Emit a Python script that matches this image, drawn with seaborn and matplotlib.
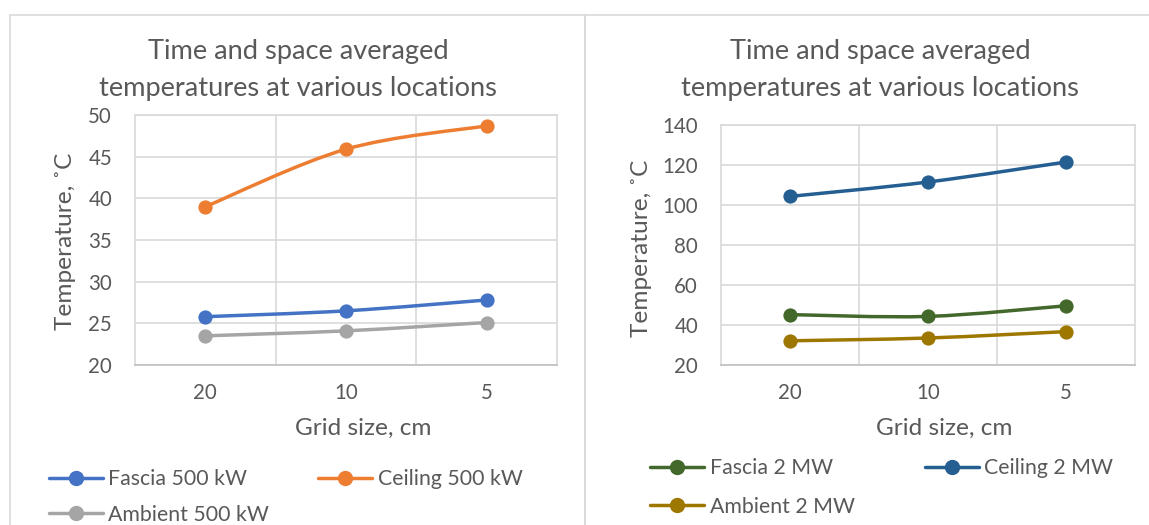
import numpy as np
import pandas as pd
import seaborn as sns
import matplotlib
matplotlib.use("Agg")
import matplotlib.pyplot as plt
from matplotlib.path import Path
from matplotlib.patches import PathPatch, Rectangle
from matplotlib.lines import Line2D

# ---------------- data ----------------
grid_sizes = ["20", "10", "5"]

fascia_500 = [25.8, 26.5, 27.8]
ceiling_500 = [39.0, 45.9, 48.7]
ambient_500 = [23.5, 24.1, 25.1]

fascia_2mw = [45.2, 44.3, 49.6]
ceiling_2mw = [104.3, 111.5, 121.5]
ambient_2mw = [32.1, 33.5, 36.7]

labels_left = ["Fascia 500 kW", "Ceiling 500 kW", "Ambient 500 kW"]
labels_right = ["Fascia 2 MW", "Ceiling 2 MW", "Ambient 2 MW"]

title_text = "Time and space averaged\ntemperatures at various locations"
xlabel_text = "Grid size, cm"
ylabel_text = "Temperature, \u02daC"

left_ticks = [20, 25, 30, 35, 40, 45, 50]
right_ticks = [20, 40, 60, 80, 100, 120, 140]

# ---------------- style ----------------
sns.set_theme(style="white")
plt.rcParams["font.family"] = ["Lato", "DejaVu Sans"]
TXT = "#595959"
GRID = "#d9d9d9"

colors_left = ["#4472C4", "#ED7D31", "#A5A5A5"]
colors_right = ["#43682B", "#255E91", "#9E7700"]

W, H = 1149, 525
fig = plt.figure(figsize=(W / 100, H / 100), dpi=100)
fig.patch.set_facecolor("white")


def px_axes(x0, y0, x1, y1):
    return fig.add_axes([x0 / W, 1 - y1 / H, (x1 - x0) / W, (y1 - y0) / H])


def smooth_path(xs, ys):
    # Excel-like smoothed line: cubic Bezier segments (Catmull-Rom tangents)
    pts = np.column_stack([xs, ys]).astype(float)
    n = len(pts)
    verts = [pts[0]]
    codes = [Path.MOVETO]
    for i in range(n - 1):
        p0 = pts[i - 1] if i > 0 else pts[i]
        p1 = pts[i]
        p2 = pts[i + 1]
        p3 = pts[i + 2] if i + 2 < n else pts[i + 1]
        c1 = p1 + (p2 - p0) / 6.0
        c2 = p2 - (p3 - p1) / 6.0
        verts += [c1, c2, p2]
        codes += [Path.CURVE4] * 3
    return Path(verts, codes)


def draw_panel(ax, series, labels, colors, ticks, legend_anchor, colspacing, rowspacing):
    for vals, lab, c in zip(series, labels, colors):
        df = pd.DataFrame({"x": np.arange(len(grid_sizes)), "y": vals})
        path = smooth_path(df["x"], df["y"])
        ax.add_patch(PathPatch(path, fill=False, edgecolor=c, lw=2.5,
                               capstyle="round", joinstyle="round", zorder=3))
        sns.scatterplot(data=df, x="x", y="y", color=c, s=105, edgecolor=c,
                        linewidth=0, zorder=4, ax=ax, legend=False)
    ax.set_xlim(-0.5, len(grid_sizes) - 0.5)
    ax.set_ylim(ticks[0], ticks[-1])
    ax.set_yticks(ticks)
    ax.set_yticklabels([str(t) for t in ticks])
    ax.set_xticks(np.arange(len(grid_sizes)))
    ax.set_xticklabels(grid_sizes)
    ax.set_xticks(np.arange(len(grid_sizes) - 1) + 0.5, minor=True)
    ax.tick_params(axis="both", which="both", length=0, labelsize=14.8,
                   labelcolor=TXT)
    ax.tick_params(axis="x", pad=13)
    ax.tick_params(axis="y", pad=16.5)
    ax.grid(True, axis="y", which="major", color=GRID, lw=1.2)
    ax.grid(True, axis="x", which="minor", color=GRID, lw=1.2)
    ax.grid(False, axis="x", which="major")
    for s in ["top", "right", "left"]:
        ax.spines[s].set_color(GRID)
        ax.spines[s].set_linewidth(1.2)
    ax.spines["bottom"].set_color("#bfbfbf")
    ax.spines["bottom"].set_linewidth(1.2)
    ax.set_xlabel("")
    ax.set_ylabel("")

    handles = [Line2D([0], [0], color=c, lw=2.5, marker="o", markersize=10,
                      markeredgecolor=c) for c in colors]
    order = [0, 2, 1]
    leg = ax.legend([handles[i] for i in order], [labels[i] for i in order],
                    ncol=2, loc="upper left", bbox_to_anchor=legend_anchor,
                    bbox_transform=fig.transFigure, frameon=False,
                    fontsize=15.3, handlelength=2.55, handletextpad=0.25,
                    columnspacing=colspacing, labelspacing=rowspacing,
                    borderpad=0, borderaxespad=0)
    for t in leg.get_texts():
        t.set_color(TXT)


# panel borders
fig.add_artist(Rectangle((10 / W, -0.1), (585 - 10) / W, (1 - 15 / H) + 0.1,
                         transform=fig.transFigure, fill=False,
                         edgecolor=GRID, lw=1.2))
fig.add_artist(Rectangle((585 / W, -0.1), (1160 - 585) / W, (1 - 15 / H) + 0.1,
                         transform=fig.transFigure, fill=False,
                         edgecolor=GRID, lw=1.2))

axL = px_axes(135, 115, 557, 365)
draw_panel(axL, [fascia_500, ceiling_500, ambient_500], labels_left, colors_left,
           left_ticks, (49 / W, 1 - 469 / H), 2.3, 0.74)

axR = px_axes(721, 125, 1135, 365)
draw_panel(axR, [fascia_2mw, ceiling_2mw, ambient_2mw], labels_right, colors_right,
           right_ticks, (650 / W, 1 - 458 / H), 3.3, 0.88)

# titles
for cx in (298, 880):
    fig.text(cx / W, 1 - 70 / H, title_text, ha="center", va="center",
             fontsize=19.6, color=TXT, linespacing=1.62)

# axis labels
for cx in (363, 944):
    fig.text(cx / W, 1 - 428 / H, xlabel_text, ha="center", va="center",
             fontsize=17.6, color=TXT)
fig.text(66 / W, 1 - 241 / H, ylabel_text, ha="center", va="center",
         rotation=90, fontsize=17.6, color=TXT)
fig.text(641 / W, 1 - 248 / H, ylabel_text, ha="center", va="center",
         rotation=90, fontsize=17.6, color=TXT)

fig.savefig("out.png", dpi=100, facecolor="white")
